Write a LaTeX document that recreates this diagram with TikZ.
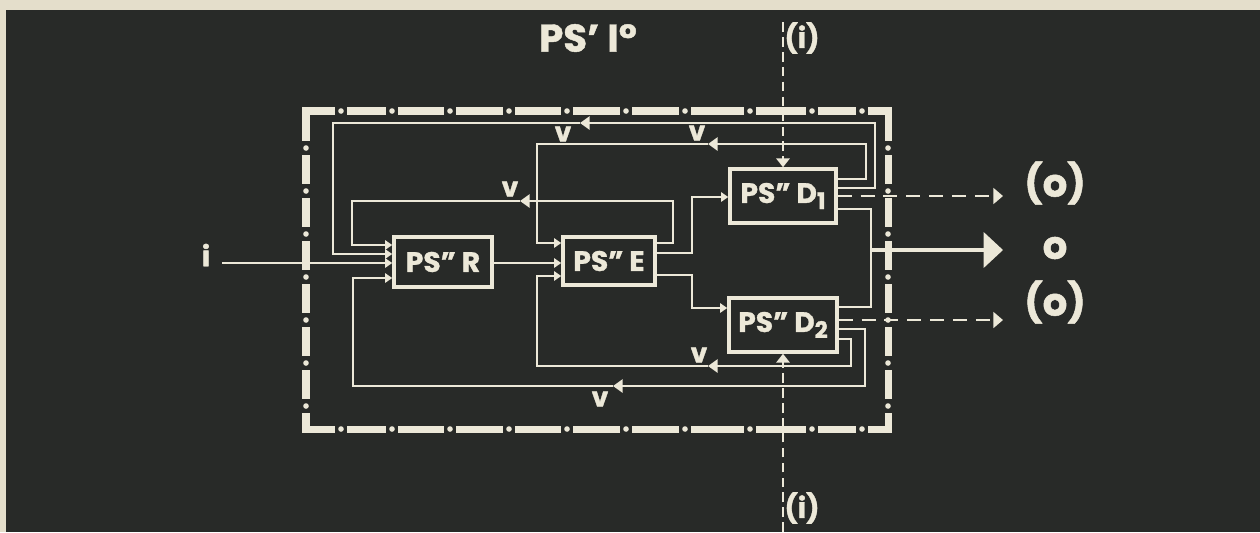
\documentclass[tikz,border=0pt]{standalone}
\usepackage{fontspec}
\setmainfont{Poppins}[BoldFeatures={FakeBold=1.2}]
\usepackage{tikz}
\usetikzlibrary{arrows.meta}

\definecolor{board}{HTML}{282A28}
\definecolor{paper}{HTML}{E4DECB}
\definecolor{ink}{HTML}{ECE8D8}

\newcommand{\boxsub}[1]{\raisebox{-3.5pt}{\fontsize{13}{13}\selectfont #1}}

\tikzset{
  blk/.style={draw=ink,line width=2pt,inner sep=0pt,text=ink,font=\fontsize{16}{16}\selectfont\bfseries},
  wire/.style={draw=ink,line width=1.35pt},
  conn/.style={wire,-{Triangle[length=4pt,width=5.2pt]}},
  fb/.style={wire,-{Triangle[length=5.5pt,width=7.5pt]}},
  sig/.style={wire,dash pattern=on 8pt off 5pt,-{Triangle[length=5.5pt,width=9pt]}},
  ext/.style={wire,line width=1.2pt,dash pattern=on 5.5pt off 3pt,-{Triangle[length=5pt,width=7.5pt]}},
  vlab/.style={text=ink,font=\fontsize{15}{15}\selectfont\bfseries,inner sep=0pt},
  lab/.style={text=ink,font=\fontsize{22}{22}\selectfont\bfseries,inner sep=0pt},
  small lab/.style={text=ink,font=\fontsize{16}{16}\selectfont\bfseries,inner sep=0pt}
}

\begin{document}
\begin{tikzpicture}[x=0.02cm,y=-0.02cm]
\useasboundingbox (0,0) rectangle (1260,532);
\fill[paper] (0,0) rectangle (1260,532);
\fill[board] (6,10) rectangle (1260,532);

% dash-dot frame
\draw[ink,line width=4pt] (306,111) rectangle (888,429);
\foreach \x in {341,392,450,509,567,626,685,750,812,862}
  \foreach \y in {111,429}{
    \fill[board] (\x-6,\y-5) rectangle (\x+6,\y+5);
    \fill[ink] (\x,\y) circle[radius=2.8];
  }
\foreach \y in {148,191,234,277,320,363,406}
  \foreach \x in {306,888}{
    \fill[board] (\x-5,\y-7) rectangle (\x+5,\y+7);
    \fill[ink] (\x,\y) circle[radius=2.8];
  }

\node[lab] (title) at (588,38) {PS’ I°};

% blocks
\node[blk,minimum width=1.96cm,minimum height=1.0cm] (R) at (443,262) {PS” R};
\node[blk,minimum width=1.84cm,minimum height=0.96cm] (E) at (609,261) {PS” E};
\node[blk,minimum width=2.12cm,minimum height=1.08cm] (D1) at (783,196) {PS” D\boxsub{1}};
\node[blk,minimum width=2.16cm,minimum height=1.08cm] (D2) at (783,325) {PS” D\boxsub{2}};

% input
\node[small lab] (inp) at (206,255) {i};
\coordinate (in0) at (222,263);
\draw[conn] (in0) -- (R.west |- in0);
\draw[conn] (R.east |- 0,263) -- (E.west |- 0,263);
\draw[conn] (E.east |- 0,253) -| (692,197) -- (D1.west |- 0,197);
\draw[conn] (E.east |- 0,275) -| (692,308) -- (D2.west |- 0,308);

% feedback loops
\draw[fb] (E.east |- 0,243) -| (673,201) -- (520,201);
\draw[conn] (520,201) -| (352,245) -- (R.west |- 0,245);
\draw[fb] (D1.east |- 0,188) -| (875,123) -- (580,123);
\draw[conn] (580,123) -| (333,254) -- (R.west |- 0,254);
\draw[fb] (D2.east |- 0,329) -| (865,386) -- (613,386);
\draw[conn] (613,386) -| (353,278) -- (R.west |- 0,278);
\draw[fb] (D1.east |- 0,179) -| (866,144) -- (708,144);
\draw[conn] (708,144) -| (537,243) -- (E.west |- 0,243);
\draw[fb] (D2.east |- 0,339) -| (851,366) -- (708,366);
\draw[conn] (708,366) -| (537,276) -- (E.west |- 0,276);
\foreach \x/\y [count=\k] in {510/189,563/134,697/133,699/355,600/399}
  \node[vlab] (v\k) at (\x,\y) {v};

% outputs
\coordinate (oj) at (871,250);
\coordinate (oend) at (1003,250);
\coordinate (s1) at (1003,196);
\coordinate (s2) at (1003,320);
\draw[wire] (D1.east |- 0,209) -| (871,307) -- (D2.east |- 0,307);
\draw[draw=ink,line width=1.9pt,-{Triangle[length=11pt,width=20pt]}] (oj) -- (oend);
\draw[sig] (D1.east |- s1) -- (s1);
\draw[sig] (D2.east |- s2) -- (s2);
\node[lab] (o1) at (1055,183) {(o)};
\node[lab] (o0) at (1055,248) {o};
\node[lab] (o2) at (1055,302) {(o)};

% external inputs
\node[small lab] (itop) at (802,38) {(i)};
\node[small lab] (ibot) at (802,508) {(i)};
\draw[ext] (D1.north |- 0,22) -- (D1.north);
\draw[ext] (D2.south |- 0,532) -- (D2.south);
\end{tikzpicture}
\end{document}
